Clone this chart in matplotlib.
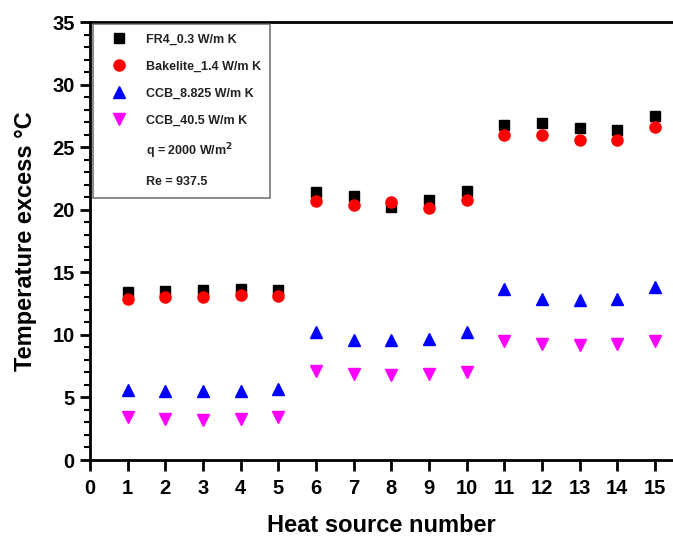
import matplotlib
matplotlib.use("Agg")
import matplotlib.pyplot as plt
from matplotlib.lines import Line2D
from matplotlib.ticker import MultipleLocator

plt.rcParams['font.family'] = ['Liberation Sans', 'DejaVu Sans']
plt.rcParams['font.weight'] = 'bold'

heat_source = list(range(1, 16))
fr4 = [13.4, 13.5, 13.6, 13.7, 13.6, 21.4, 21.1, 20.2, 20.8, 21.5, 26.8, 26.9, 26.5, 26.4, 27.5]
bakelite = [12.9, 13.0, 13.0, 13.2, 13.1, 20.7, 20.4, 20.6, 20.1, 20.8, 26.0, 26.0, 25.6, 25.6, 26.6]
ccb_8825 = [5.6, 5.5, 5.5, 5.5, 5.7, 10.2, 9.6, 9.6, 9.7, 10.2, 13.7, 12.9, 12.8, 12.9, 13.8]
ccb_405 = [3.4, 3.3, 3.2, 3.3, 3.4, 7.1, 6.9, 6.8, 6.9, 7.0, 9.5, 9.3, 9.2, 9.3, 9.5]

labels = ["FR4_0.3 W/m K", "Bakelite_1.4 W/m K", "CCB_8.825 W/m K", "CCB_40.5 W/m K"]
extra_labels = ["q = 2000 W/m$^{\\mathbf{2}}$", "Re = 937.5"]
xticks = list(range(0, 16))
yticks = list(range(0, 36, 5))

fig = plt.figure(figsize=(6.73, 5.38), dpi=100)
ax = fig.add_axes([90/673, 78/538, 1 - 90/673, 438/538])

ms = 8
ax.plot(heat_source, fr4, 's', color='black', ms=ms - 1, linestyle='none', label=labels[0])
ax.plot(heat_source, bakelite, 'o', color='red', ms=ms, linestyle='none', label=labels[1])
ax.plot(heat_source, ccb_8825, '^', color='blue', ms=ms + 1, linestyle='none', label=labels[2])
ax.plot(heat_source, ccb_405, 'v', color='magenta', ms=ms + 1, linestyle='none', label=labels[3])

ax.set_xlim(0, 15.48)
ax.set_ylim(0, 35)
ax.set_xticks(xticks)
ax.set_yticks(yticks)
ax.yaxis.set_minor_locator(MultipleLocator(1))
ax.tick_params(axis='x', direction='out', length=8, width=2, labelsize=14.5, pad=6)
ax.tick_params(axis='y', which='major', direction='out', length=7, width=2, labelsize=14.5, pad=4)
ax.tick_params(axis='y', which='minor', direction='out', length=4, width=1.5)
for lab in ax.get_xticklabels() + ax.get_yticklabels():
    lab.set_fontweight('bold')

for s in ['left', 'bottom', 'top']:
    ax.spines[s].set_linewidth(2)
ax.spines['right'].set_visible(False)

ax.set_xlabel("Heat source number", fontsize=17, fontweight='bold', labelpad=11)
ax.set_ylabel("Temperature excess °C", fontsize=17, fontweight='bold', labelpad=11)

handles, lbls = ax.get_legend_handles_labels()
for t in extra_labels:
    handles.append(Line2D([], [], linestyle='none', marker=None))
    lbls.append(t)
leg = ax.legend(handles, lbls, loc='upper left', bbox_to_anchor=(0.005, 0.995),
                frameon=True, fancybox=False, edgecolor='#555555',
                prop={'size': 9, 'weight': 'bold'}, labelspacing=1.2,
                handletextpad=0.9, borderpad=0.75, handlelength=2.6,
                borderaxespad=0.0)
leg.get_frame().set_linewidth(1.2)
for t in leg.get_texts():
    t.set_color('#222222')

fig.savefig("out.png", dpi=100)
